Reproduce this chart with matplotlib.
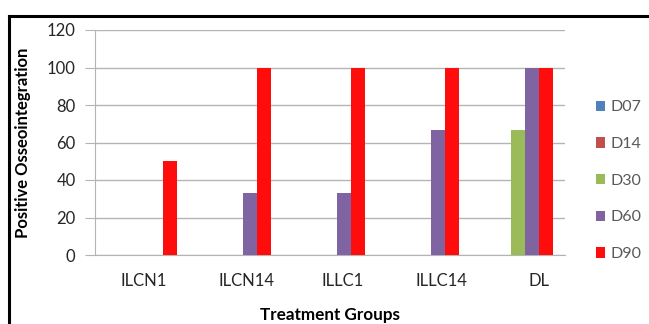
import numpy as np
import matplotlib.pyplot as plt
from matplotlib.lines import Line2D
from matplotlib import transforms

plt.rcParams['font.family'] = ['Lato', 'DejaVu Sans']

groups = ['ILCN1', 'ILCN14', 'ILLC1', 'ILLC14', 'DL']
days = ['D07', 'D14', 'D30', 'D60', 'D90']
d07 = [0, 0, 0, 0, 0]
d14 = [0, 0, 0, 0, 0]
d30 = [0, 0, 0, 0, 66.7]
d60 = [0, 33.3, 33.3, 66.7, 100]
d90 = [50, 100, 100, 100, 100]
colors = ['#4F81BD', '#C0504D', '#9BBB59', '#8064A2', '#FF0D0D']

series = [d07, d14, d30, d60, d90]
x = np.arange(len(groups))
w = 0.149

fig = plt.figure(figsize=(6.49, 3.24), dpi=100)
ax = fig.add_axes([95/649, 69/324, 470/649, 225/324])

for i, (vals, c, lab) in enumerate(zip(series, colors, days)):
    ax.bar(x + (i - 2) * w, vals, w, color=c, label=lab, zorder=3)

ax.set_xlim(-0.5, 4.5)
ax.set_ylim(0, 120)
ax.set_yticks(range(0, 121, 20))
ax.yaxis.grid(True, color='#b4b4b4', lw=1, zorder=0)
for s in ['top', 'right']:
    ax.spines[s].set_visible(False)
for s in ['left', 'bottom']:
    ax.spines[s].set_color('#b4b4b4')
ax.tick_params(axis='y', length=7, color='#b4b4b4', pad=7, labelsize=12, labelcolor='#262626')
ax.tick_params(axis='x', length=0, pad=13, labelsize=12, labelcolor='#262626')
ax.set_xticks(x)
ax.set_xticklabels(groups)

# Excel put the category labels slightly to the right of each group
shift_px = [1.5, 10.5, 13, 17.5, 20.5]
for t, dx in zip(ax.get_xticklabels(), shift_px):
    t.set_transform(t.get_transform() + transforms.ScaledTranslation(dx/100, 0, fig.dpi_scale_trans))

ax.set_xlabel('Treatment Groups', fontsize=12.3, fontweight='bold', labelpad=13)
ax.set_ylabel('Positive Osseointegration', fontsize=12, fontweight='bold', labelpad=11)

leg = ax.legend(loc='center left', bbox_to_anchor=(1.035, 0.33), frameon=False,
                fontsize=11.5, handlelength=0.6, handleheight=0.6, handletextpad=0.3,
                labelspacing=1.42, labelcolor='#595959')

# chart frame (left and top edges visible)
fig.add_artist(Line2D([8.5/649, 8.5/649], [0, 1 - 15.5/324], color='black', lw=2.2))
fig.add_artist(Line2D([8.5/649, 1], [1 - 15.5/324, 1 - 15.5/324], color='black', lw=2.2))

fig.savefig('out.png', dpi=100)
